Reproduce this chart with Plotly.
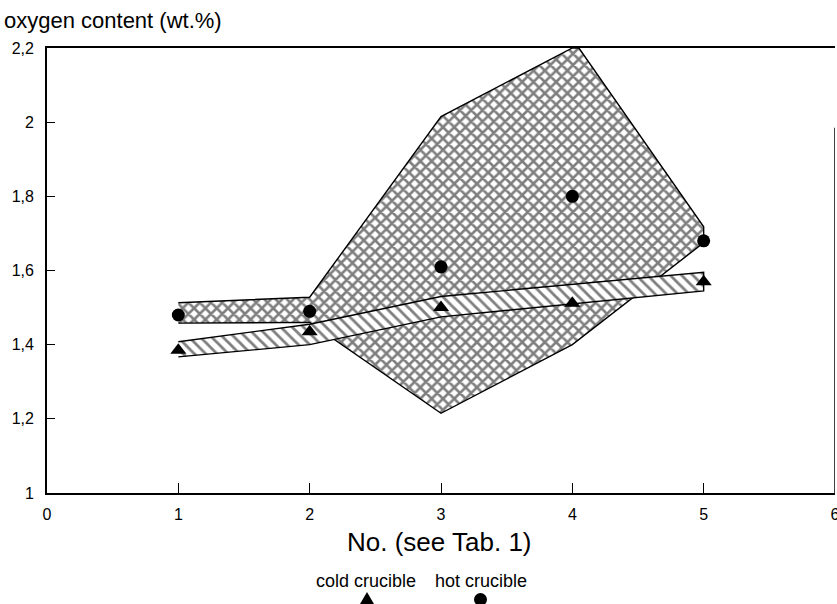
import plotly.graph_objects as go

# ---- data ----
samples = [1, 2, 3, 4, 5]
hot_values = [1.48, 1.49, 1.61, 1.80, 1.68]
cold_values = [1.385, 1.435, 1.50, 1.512, 1.57]

# scatter-band outlines (hand drawn envelopes in the original)
hot_band_x = [1, 2, 3, 4, 4.05, 5, 5, 4, 3, 2, 1]
hot_band_y = [1.513, 1.528, 2.015, 2.2, 2.2, 1.718, 1.675, 1.40, 1.215, 1.46, 1.458]
cold_band_x = [1, 2, 3, 5, 5, 3, 2, 1]
cold_band_y = [1.408, 1.455, 1.53, 1.595, 1.545, 1.475, 1.40, 1.367]

x_tick_vals = [0, 1, 2, 3, 4, 5, 6]
x_tick_text = ["0", "1", "2", "3", "4", "5", "6"]
y_tick_vals = [1, 1.2, 1.4, 1.6, 1.8, 2, 2.2]
y_tick_text = ["1", "1,2", "1,4", "1,6", "1,8", "2", "2,2"]

FONT = "Liberation Sans, Arial, Helvetica, sans-serif"
W, H = 837, 604
L, R, T, B = 47, 2, 48, 111
PW, PH = W - L - R, H - T - B


def px(xp):
    return (xp - L) / PW


def py(yp):
    return (H - B - yp) / PH


fig = go.Figure()

fig.add_trace(go.Scatter(
    x=hot_band_x, y=hot_band_y, mode="lines", fill="toself",
    line=dict(color="black", width=1.4),
    fillcolor="white",
    fillpattern=dict(shape="x", size=8, solidity=0.55, fgcolor="black", bgcolor="white"),
    hoverinfo="skip", showlegend=False,
))
fig.add_trace(go.Scatter(
    x=cold_band_x, y=cold_band_y, mode="lines", fill="toself",
    line=dict(color="black", width=1.4),
    fillcolor="white",
    fillpattern=dict(shape="\\", size=8, solidity=0.35, fgcolor="black", bgcolor="white"),
    hoverinfo="skip", showlegend=False,
))
fig.add_trace(go.Scatter(
    x=samples, y=hot_values, mode="markers", name="hot crucible",
    marker=dict(symbol="circle", size=13, color="black"),
    showlegend=False,
))
fig.add_trace(go.Scatter(
    x=samples, y=cold_values, mode="markers", name="cold crucible",
    marker=dict(symbol="triangle-up", size=14, color="black"),
    showlegend=False,
))

# partial right frame line as in the scan
fig.add_shape(type="line", xref="x", yref="y", x0=6, x1=6, y0=1, y1=1.985,
              line=dict(color="black", width=1.5))

# legend symbols (below the axis title)
fig.add_shape(type="path", xref="paper", yref="paper",
              path=f"M {px(360)} {py(604)} L {px(374)} {py(604)} L {px(367)} {py(592)} Z",
              fillcolor="black", line=dict(color="black", width=0))
fig.add_shape(type="circle", xref="paper", yref="paper",
              x0=px(474), x1=px(487), y0=py(606), y1=py(593),
              fillcolor="black", line=dict(color="black", width=0))

fig.update_layout(
    width=W, height=H,
    margin=dict(l=L, r=R, t=T, b=B),
    paper_bgcolor="white", plot_bgcolor="white",
    separators=",.",
    font=dict(family=FONT, color="black"),
    title=dict(text="oxygen content (wt.%)", font=dict(size=22, family=FONT, color="black"),
               xref="container", yref="container", x=4 / W, xanchor="left",
               y=1 - 20 / H, yanchor="middle", automargin=False),
    xaxis=dict(range=[0, 6], tickvals=x_tick_vals, ticktext=x_tick_text,
               showgrid=False, zeroline=False, showline=True, linecolor="black",
               linewidth=1.5, mirror=True, ticks="inside", ticklen=10, tickwidth=1,
               tickcolor="black", tickfont=dict(size=16, family=FONT, color="black"),
               ticklabelstandoff=6, ticklabeloverflow="allow", automargin=False),
    yaxis=dict(range=[1, 2.2], tickvals=y_tick_vals, ticktext=y_tick_text,
               showgrid=False, zeroline=False, showline=True, linecolor="black",
               linewidth=1.8, ticks="inside", ticklen=8, tickwidth=1,
               tickcolor="black", tickfont=dict(size=16, family=FONT, color="black"),
               ticklabelstandoff=8, ticklabeloverflow="allow", automargin=False),
)

fig.add_annotation(text="No. (see Tab. 1)", xref="paper", yref="paper",
                   x=px(439), y=py(542), xanchor="center", yanchor="middle",
                   showarrow=False, font=dict(size=26, family=FONT, color="black"))
fig.add_annotation(text="cold crucible", xref="paper", yref="paper",
                   x=px(366), y=py(581), xanchor="center", yanchor="middle",
                   showarrow=False, font=dict(size=18, family=FONT, color="black"))
fig.add_annotation(text="hot crucible", xref="paper", yref="paper",
                   x=px(481), y=py(581), xanchor="center", yanchor="middle",
                   showarrow=False, font=dict(size=18, family=FONT, color="black"))

fig.write_html(
    "out.html",
    config={"displayModeBar": False},
    post_script="document.body.style.margin='0';document.body.style.overflow='hidden';"
                "document.documentElement.style.overflow='hidden';",
)
